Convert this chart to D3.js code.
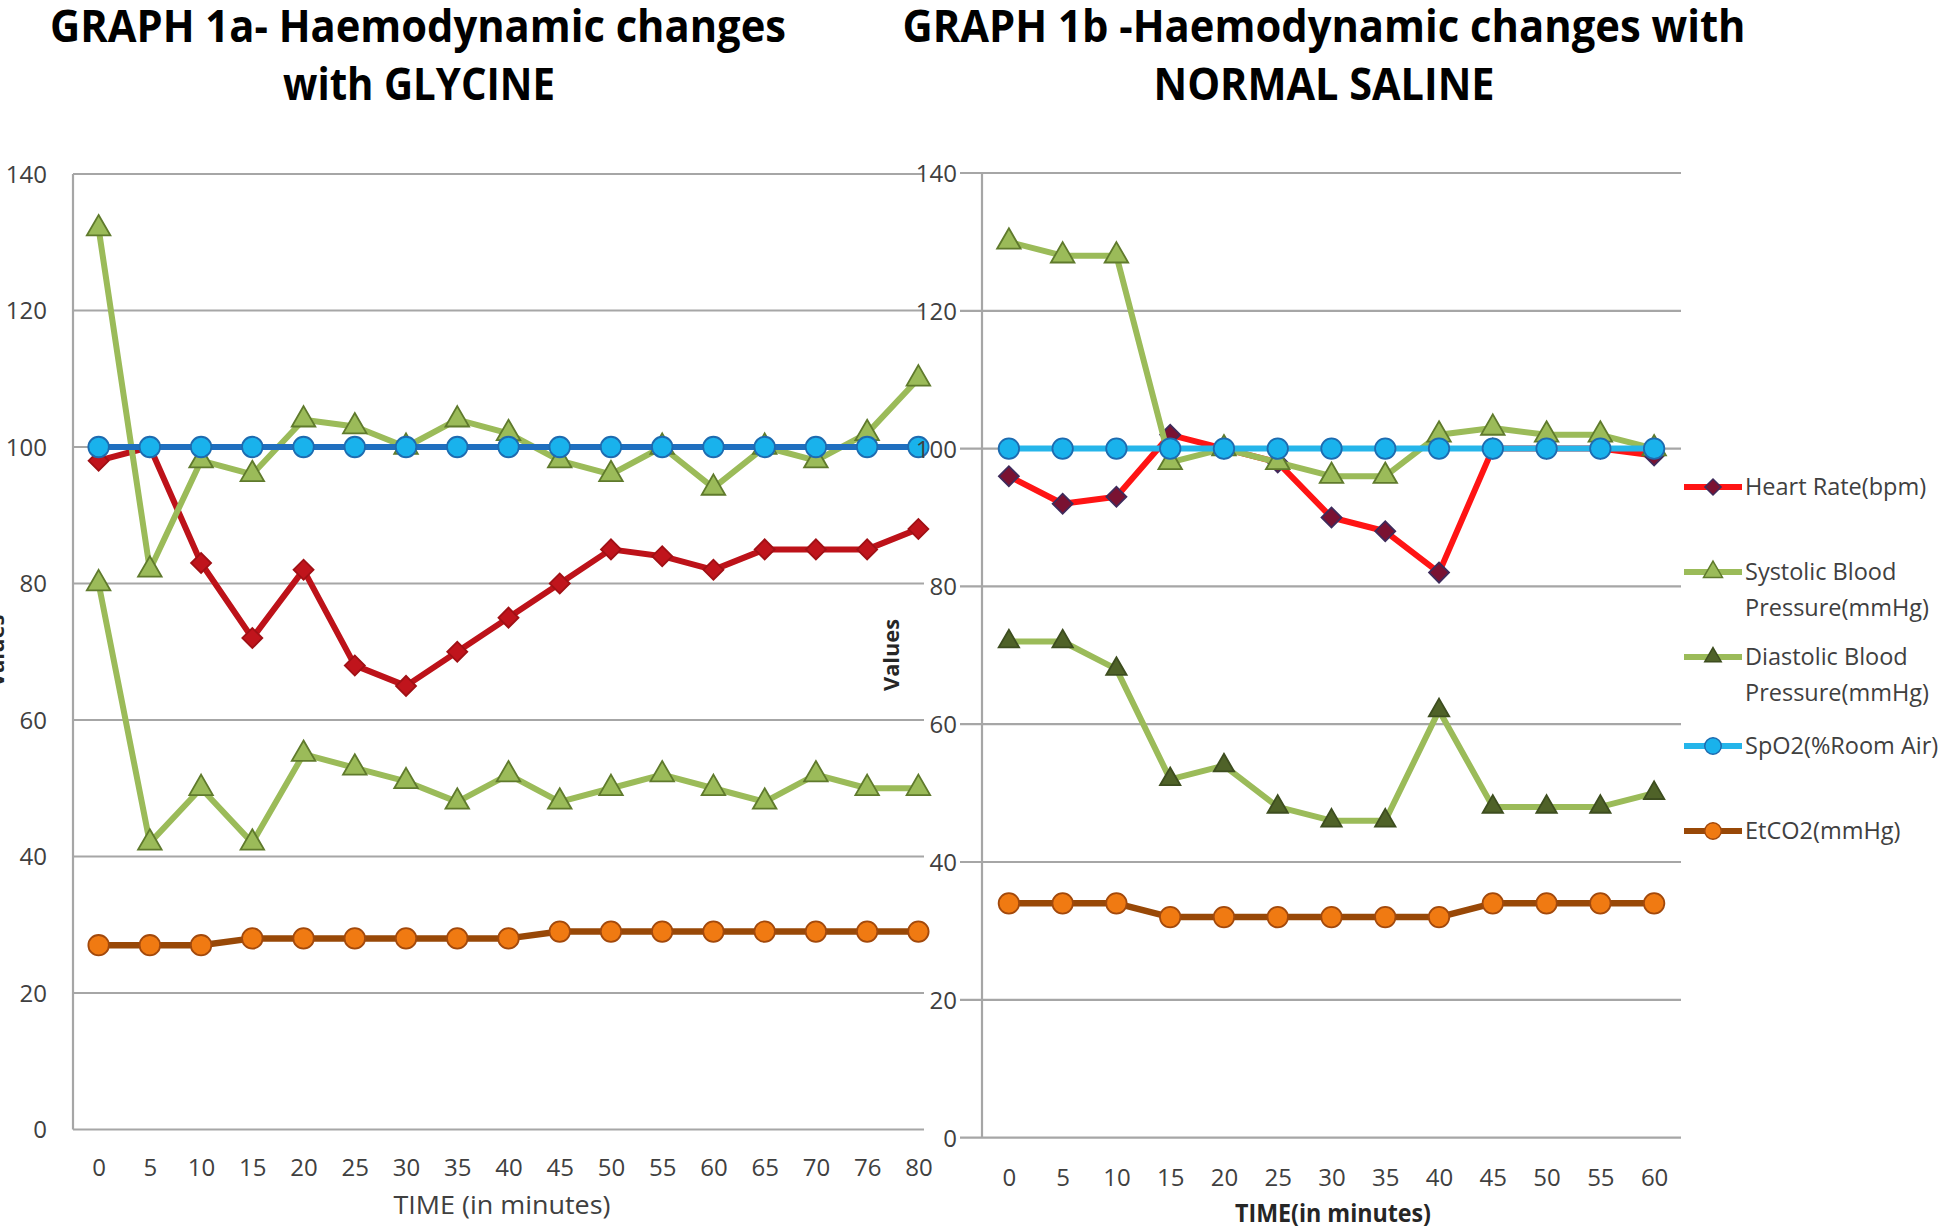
<!DOCTYPE html>
<html>
<head>
<meta charset="utf-8">
<script src="https://cdn.jsdelivr.net/npm/d3@7"></script>
<style>
  html, body { margin: 0; padding: 0; background: #ffffff; }
  svg { display: block; }
  text { font-family: "Open Sans", "Noto Sans", sans-serif; fill: #404040; }
</style>
</head>
<body>
<svg id="chart" width="1946" height="1229"></svg>
<script>
// ---------- DATA ----------
const timeGlycine = ["0","5","10","15","20","25","30","35","40","45","50","55","60","65","70","76","80"];
const hrGlycine   = [98,100,83,72,82,68,65,70,75,80,85,84,82,85,85,85,88];
const sbpGlycine  = [132,82,98,96,104,103,100,104,102,98,96,100,94,100,98,102,110];
const dbpGlycine  = [80,42,50,42,55,53,51,48,52,48,50,52,50,48,52,50,50];
const spo2Glycine = [100,100,100,100,100,100,100,100,100,100,100,100,100,100,100,100,100];
const etco2Glycine= [27,27,27,28,28,28,28,28,28,29,29,29,29,29,29,29,29];

const timeSaline  = ["0","5","10","15","20","25","30","35","40","45","50","55","60"];
const hrSaline    = [96,92,93,102,100,98,90,88,82,100,100,100,99];
const sbpSaline   = [130,128,128,98,100,98,96,96,102,103,102,102,100];
const dbpSaline   = [72,72,68,52,54,48,46,46,62,48,48,48,50];
const spo2Saline  = [100,100,100,100,100,100,100,100,100,100,100,100,100];
const etco2Saline = [34,34,34,32,32,32,32,32,32,34,34,34,34];

const yTicks = [0,20,40,60,80,100,120,140];
const seriesNames = ["Heart Rate(bpm)","Systolic Blood|Pressure(mmHg)","Diastolic Blood|Pressure(mmHg)","SpO2(%Room Air)","EtCO2(mmHg)"];

// ---------- STYLES ----------
const svg = d3.select("#chart");
const gridColor = "#a6a6a6";

const stylesLeft = [
  {line:"#bd1219", fill:"#c0141c", stroke:"#a01015", sym:"diamond", size:200},
  {line:"#9bbb59", fill:"#9bbb59", stroke:"#5f7a2c", sym:"triangle", size:240},
  {line:"#9bbb59", fill:"#9bbb59", stroke:"#5f7a2c", sym:"triangle", size:240},
  {line:"#1f6fbf", fill:"#19b2ec", stroke:"#1d6bb0", sym:"circle", size:330},
  {line:"#984807", fill:"#f07a12", stroke:"#a2490c", sym:"circle", size:330}
];
const stylesRight = [
  {line:"#ff1414", fill:"#7a1232", stroke:"#3f2b5b", sym:"diamond", size:200},
  {line:"#9bbb59", fill:"#9bbb59", stroke:"#5f7a2c", sym:"triangle", size:240},
  {line:"#9bbb59", fill:"#4f6228", stroke:"#3d4d1f", sym:"triangle", size:180},
  {line:"#25b5ea", fill:"#19b2ec", stroke:"#1d6bb0", sym:"circle", size:330},
  {line:"#984807", fill:"#f07a12", stroke:"#a2490c", sym:"circle", size:330}
];

function symPath(s, size) {
  if (s === "diamond") return d3.symbol().type(d3.symbolSquare).size(size)();
  if (s === "triangle") return d3.symbol().type(d3.symbolTriangle).size(size)();
  return d3.symbol().type(d3.symbolCircle).size(size)();
}

// ---------- TITLES ----------
function title(txt, x, y, len) {
  svg.append("text").attr("x", x).attr("y", y)
    .attr("text-anchor", "middle")
    .style("font-weight", "700").style("font-size", "44px").style("fill", "#000")
    .attr("textLength", len).attr("lengthAdjust", "spacingAndGlyphs")
    .text(txt);
}
title("GRAPH 1a- Haemodynamic changes", 418, 42, 736);
title("with GLYCINE", 419, 100, 272);
title("GRAPH 1b -Haemodynamic changes with", 1324, 42, 843);
title("NORMAL SALINE", 1324, 100, 341);

// ---------- PANEL BUILDER ----------
function panel(opts) {
  const x = d3.scalePoint().domain(opts.cats).range([opts.x0, opts.x1]).padding(0.5);
  const y = d3.scaleLinear().domain([0, 140]).range([opts.yBottom, opts.yTop]);
  const g = svg.append("g");

  g.append("g").selectAll("line").data(yTicks).join("line")
    .attr("x1", opts.gridX0).attr("x2", opts.gridX1)
    .attr("y1", d => y(d)).attr("y2", d => y(d))
    .attr("stroke", gridColor).attr("stroke-width", 2.2);

  g.append("line").attr("x1", opts.x0).attr("x2", opts.x0)
    .attr("y1", y(140)).attr("y2", y(0))
    .attr("stroke", gridColor).attr("stroke-width", 2.2);

  const yAxis = d3.axisLeft(y).tickValues(yTicks).tickSize(0).tickPadding(0);
  const ya = g.append("g").attr("transform", `translate(${opts.yLabelX},0)`).call(yAxis);
  ya.select(".domain").remove();
  ya.selectAll("text").style("font-size", "24px").style("fill", "#404040")
    .style("font-family", "\"Open Sans\", sans-serif").attr("dy", "0.35em");

  const xAxis = d3.axisBottom(x).tickSize(0).tickPadding(0);
  const xa = g.append("g").attr("transform", `translate(0,${opts.xLabelY})`).call(xAxis);
  xa.select(".domain").remove();
  xa.selectAll("text").style("font-size", "24px").style("fill", "#404040")
    .style("font-family", "\"Open Sans\", sans-serif").attr("dy", "0");

  g.append("text").attr("x", opts.xTitleX).attr("y", opts.xTitleY)
    .attr("text-anchor", "middle")
    .style("font-size", "25px").style("font-weight", opts.xTitleBold ? "700" : "400")
    .style("fill", opts.xTitleBold ? "#262626" : "#404040")
    .attr("textLength", opts.xTitleLen).attr("lengthAdjust", "spacingAndGlyphs")
    .text(opts.xTitle);

  return {x, y, g};
}

function drawSeries(p, cats, arrays, styles) {
  arrays.forEach((vals, i) => {
    const st = styles[i];
    const pts = cats.map((c, j) => [p.x(c), p.y(vals[j])]);
    p.g.append("path").attr("d", d3.line()(pts))
      .attr("fill", "none").attr("stroke", st.line)
      .attr("stroke-width", i === 4 ? 6.5 : 6).attr("stroke-linejoin", "round");
    const path = symPath(st.sym, st.size);
    p.g.append("g").selectAll("path").data(pts).join("path")
      .attr("d", path)
      .attr("transform", d => `translate(${d[0]},${d[1]})` + (st.sym === "diamond" ? " rotate(45)" : ""))
      .attr("fill", st.fill).attr("stroke", st.stroke).attr("stroke-width", 1.8);
  });
}

// ---------- LEFT PANEL ----------
const left = panel({
  cats: timeGlycine, x0: 73, x1: 944, yBottom: 1129.5, yTop: 174,
  gridX0: 73, gridX1: 924, yLabelX: 47, xLabelY: 1176,
  xTitle: "TIME (in minutes)", xTitleX: 502, xTitleY: 1214, xTitleLen: 217, xTitleBold: false
});
// left "Values" label (mostly cut off at the image edge, as in the reference)
svg.append("text").attr("transform", "translate(4,651) rotate(-90)")
  .attr("text-anchor", "middle").style("font-size", "22px").style("font-weight", "700")
  .style("fill", "#262626").text("Values");

// ---------- RIGHT PANEL ----------
const right = panel({
  cats: timeSaline, x0: 982, x1: 1681, yBottom: 1137.6, yTop: 173,
  gridX0: 960, gridX1: 1681, yLabelX: 957, xLabelY: 1186,
  xTitle: "TIME(in minutes)", xTitleX: 1333, xTitleY: 1222, xTitleLen: 196, xTitleBold: true
});
svg.append("text").attr("transform", "translate(899,655) rotate(-90)")
  .attr("text-anchor", "middle").style("font-size", "22px").style("font-weight", "700")
  .style("fill", "#262626").attr("textLength", 72).attr("lengthAdjust", "spacingAndGlyphs")
  .text("Values");

drawSeries(left, timeGlycine, [hrGlycine, sbpGlycine, dbpGlycine, spo2Glycine, etco2Glycine], stylesLeft);
drawSeries(right, timeSaline, [hrSaline, sbpSaline, dbpSaline, spo2Saline, etco2Saline], stylesRight);

// ---------- LEGEND ----------
const legendY = [487, 572, 657, 746, 831];
const lg = svg.append("g");
seriesNames.forEach((name, i) => {
  const st = stylesRight[i];
  const yy = legendY[i];
  lg.append("line").attr("x1", 1684).attr("x2", 1742).attr("y1", yy).attr("y2", yy)
    .attr("stroke", st.line).attr("stroke-width", 6);
  lg.append("path").attr("d", symPath(st.sym, st.size * 0.65))
    .attr("transform", `translate(1713,${yy})` + (st.sym === "diamond" ? " rotate(45)" : ""))
    .attr("fill", st.fill).attr("stroke", st.stroke).attr("stroke-width", 1.5);
  const parts = name.split("|");
  parts.forEach((t, k) => {
    lg.append("text").attr("x", 1745).attr("y", yy + k * 36).attr("dy", "0.35em")
      .style("font-size", "23.5px").style("fill", "#404040").text(t);
  });
});
</script>
</body>
</html>
